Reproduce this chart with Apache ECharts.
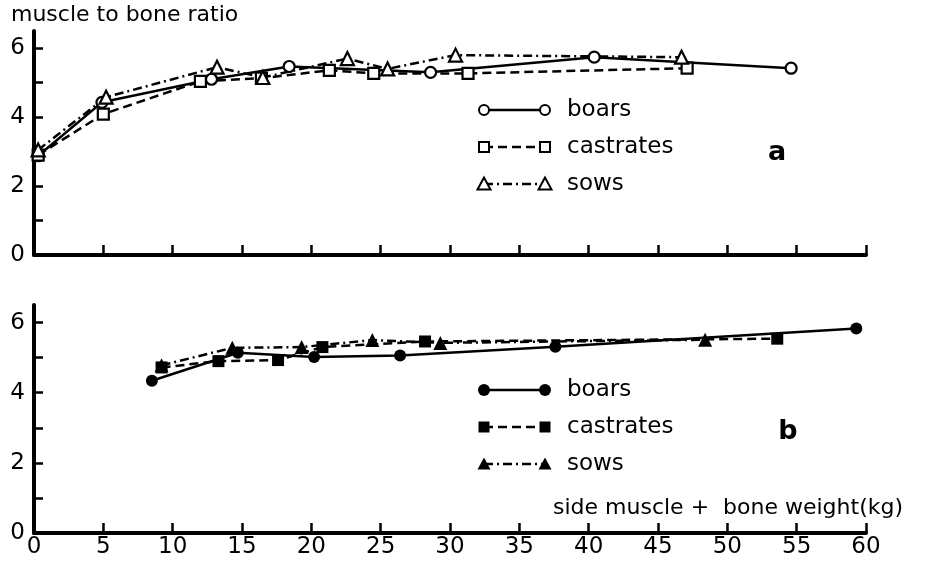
<!DOCTYPE html>
<html><head><meta charset="utf-8">
<script src="https://cdn.jsdelivr.net/npm/echarts@6/dist/echarts.min.js"></script>
<style>html,body{margin:0;padding:0;background:#fff}#c{width:925px;height:565px}</style>
</head><body><div id="c"></div>
<script>
// ---- data ----
var seriesNames = ['boars', 'castrates', 'sows'];
var yLabelValues = [0, 2, 4, 6];
var yTickValues = [1, 2, 3, 4, 5, 6];

// panel a (open symbols)
var aBoarsX = [0.3, 4.9, 12.8, 18.4, 28.6, 40.4, 54.6];
var aBoarsY = [2.88, 4.43, 5.1, 5.47, 5.3, 5.74, 5.42];
var aCastX = [0.3, 5.0, 12.0, 16.4, 21.3, 24.5, 31.3, 47.1];
var aCastY = [2.9, 4.09, 5.04, 5.13, 5.36, 5.27, 5.27, 5.42];
var aSowsX = [0.3, 5.2, 13.2, 16.5, 22.6, 25.5, 30.4, 46.7];
var aSowsY = [3.05, 4.58, 5.45, 5.15, 5.7, 5.4, 5.8, 5.74];

// panel b (filled symbols)
var bBoarsX = [8.5, 14.7, 20.2, 26.4, 37.6, 59.3];
var bBoarsY = [4.34, 5.14, 5.02, 5.06, 5.31, 5.83];
var bCastX = [9.2, 13.3, 17.6, 20.8, 28.2, 53.6];
var bCastY = [4.72, 4.9, 4.93, 5.3, 5.46, 5.54];
var bSowsX = [9.2, 14.3, 19.3, 24.4, 29.3, 48.4];
var bSowsY = [4.78, 5.28, 5.3, 5.5, 5.42, 5.51];

var yTitle = 'muscle to bone ratio';
var xTitle = 'side muscle +  bone weight(kg)';
var panelLabels = ['a', 'b'];

// ---- helpers ----
function zip(xs, ys) { return xs.map(function (x, i) { return [x, ys[i]]; }); }
var FONT = 'DejaVu Sans';
var symbols = ['circle', 'rect', 'triangle'];
var dashes = ['solid', [9, 5], [9, 4, 2, 4]];

function mkSeries(name, idx, data, gi, filled) {
  return {
    name: name, type: 'line', xAxisIndex: gi, yAxisIndex: gi,
    data: data, symbol: symbols[idx],
    symbolSize: filled ? (idx === 2 ? 14 : 12) : (idx === 2 ? 13 : 11),
    showAllSymbol: true,
    lineStyle: { color: '#000', width: 2.5, type: dashes[idx] },
    itemStyle: { color: filled ? '#000' : '#fff', borderColor: '#000', borderWidth: filled ? 0 : 2.2 },
    z: 3, animation: false
  };
}

function xAxis(gi, showLabels) {
  return {
    type: 'value', gridIndex: gi, min: 0, max: 60, interval: 5,
    axisLine: { show: true, lineStyle: { color: '#000', width: 4 } },
    axisTick: { show: true, inside: true, length: 10, lineStyle: { color: '#000', width: 2.5 } },
    axisLabel: { show: showLabels, color: '#000', fontSize: 23, fontFamily: FONT, margin: 3 },
    splitLine: { show: false }
  };
}
function yAxis(gi) {
  return {
    type: 'value', gridIndex: gi, min: 0, max: 6.5,
    axisLine: { show: true, lineStyle: { color: '#000', width: 4 } },
    axisTick: { show: true, inside: true, length: 9, customValues: yTickValues, lineStyle: { color: '#000', width: 2.5 } },
    axisLabel: { show: true, customValues: yLabelValues, color: '#000', fontSize: 23, fontFamily: FONT, margin: 9 },
    splitLine: { show: false }
  };
}

// legend drawn as graphics (decoration)
function legendGraphics(top, filled) {
  var out = [];
  var x0 = 484, x1 = 545, rowH = 37;
  seriesNames.forEach(function (n, i) {
    var y = top + i * rowH;
    out.push({ type: 'line', shape: { x1: x0, y1: y, x2: x1, y2: y },
      style: { stroke: '#000', lineWidth: 2.5, lineDash: dashes[i] === 'solid' ? null : dashes[i] } });
    [x0, x1].forEach(function (sx) {
      var st = { fill: filled ? '#000' : '#fff', stroke: '#000', lineWidth: filled ? 0 : 2 };
      if (i === 0) out.push({ type: 'circle', shape: { cx: sx, cy: y, r: filled ? 6 : 5 }, style: st, z: 10 });
      else if (i === 1) out.push({ type: 'rect', shape: { x: sx - (filled ? 5.5 : 5), y: y - (filled ? 5.5 : 5), width: filled ? 11 : 10, height: filled ? 11 : 10 }, style: st, z: 10 });
      else out.push({ type: 'polygon', shape: { points: [[sx, y - 6.5], [sx - 6.5, y + 5.5], [sx + 6.5, y + 5.5]] }, style: st, z: 10 });
    });
    out.push({ type: 'text', x: 567, y: y, style: { text: n, font: '23px ' + FONT, fill: '#000', textVerticalAlign: 'middle' } });
  });
  return out;
}

var chart = echarts.init(document.getElementById('c'), null, { renderer: 'canvas' });
var graphics = [
  { type: 'text', x: 11, y: 15, style: { text: yTitle, font: '22px ' + FONT, fill: '#000', textVerticalAlign: 'middle' } },
  { type: 'text', x: 553, y: 508, style: { text: xTitle, font: '22px ' + FONT, fill: '#000', textVerticalAlign: 'middle' } },
  { type: 'text', x: 777, y: 153, style: { text: panelLabels[0], font: 'bold 27px ' + FONT, fill: '#000', textAlign: 'center', textVerticalAlign: 'middle' } },
  { type: 'text', x: 788, y: 432, style: { text: panelLabels[1], font: 'bold 27px ' + FONT, fill: '#000', textAlign: 'center', textVerticalAlign: 'middle' } }
].concat(legendGraphics(110, false)).concat(legendGraphics(390, true));

chart.setOption({
  backgroundColor: '#fff',
  animation: false,
  grid: [
    { left: 34, width: 832, top: 31, height: 224 },
    { left: 34, width: 832, top: 305, height: 228 }
  ],
  xAxis: [xAxis(0, false), xAxis(1, true)],
  yAxis: [yAxis(0), yAxis(1)],
  series: [
    mkSeries(seriesNames[0], 0, zip(aBoarsX, aBoarsY), 0, false),
    mkSeries(seriesNames[1], 1, zip(aCastX, aCastY), 0, false),
    mkSeries(seriesNames[2], 2, zip(aSowsX, aSowsY), 0, false),
    mkSeries(seriesNames[0], 0, zip(bBoarsX, bBoarsY), 1, true),
    mkSeries(seriesNames[1], 1, zip(bCastX, bCastY), 1, true),
    mkSeries(seriesNames[2], 2, zip(bSowsX, bSowsY), 1, true)
  ],
  graphic: graphics
});
</script></body></html>
